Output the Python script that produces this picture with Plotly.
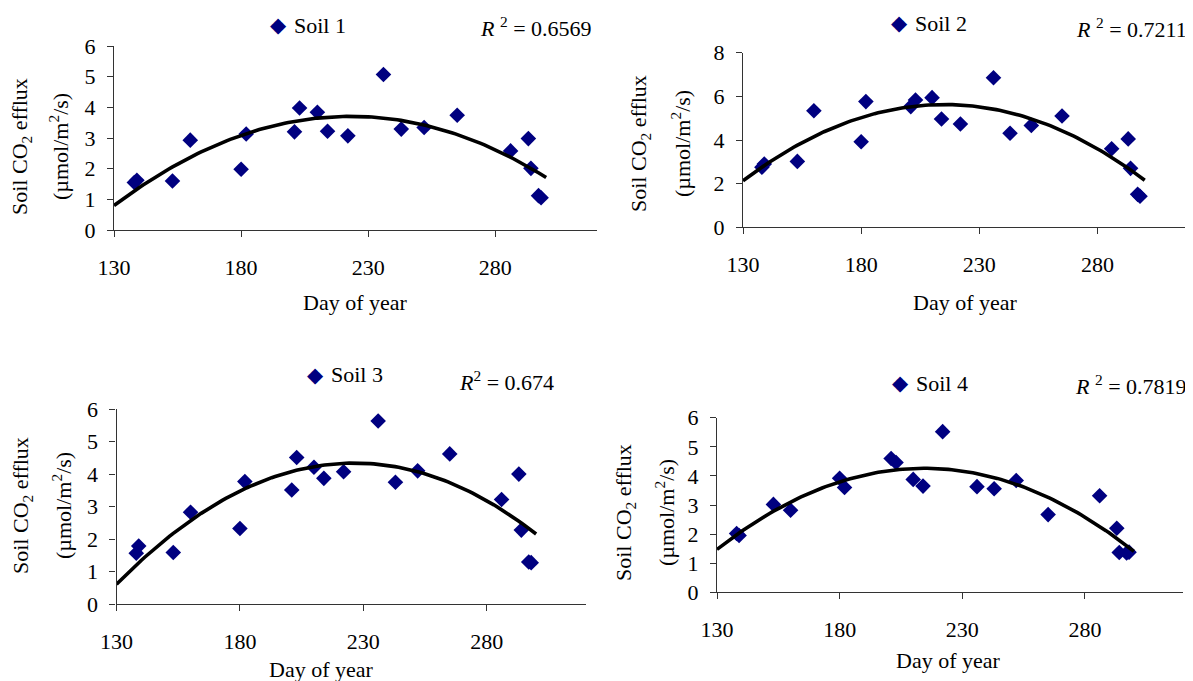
import numpy as np
import plotly.graph_objects as go

# ---------------- data ----------------
days = [138, 139, 153, 160, 180, 182, 201, 203, 210, 214,
        222, 236, 243, 252, 265, 286, 293, 294, 297, 298]

soil1 = [1.55, 1.62, 1.60, 2.93, 1.98, 3.13, 3.20, 3.98, 3.84, 3.22,
         3.07, 5.07, 3.29, 3.34, 3.74, 2.58, 2.98, 2.01, 1.12, 1.05]
soil2 = [2.75, 2.90, 3.02, 5.34, 3.92, 5.76, 5.53, 5.83, 5.94, 4.96,
         4.73, 6.85, 4.31, 4.67, 5.10, 3.60, 4.05, 2.70, 1.51, 1.42]
soil3 = [1.57, 1.79, 1.59, 2.83, 2.33, 3.77, 3.51, 4.51, 4.21, 3.87,
         4.07, 5.63, 3.75, 4.10, 4.62, 3.22, 4.00, 2.28, 1.30, 1.28]
soil4 = [2.02, 1.95, 3.02, 2.82, 3.92, 3.60, 4.60, 4.46, 3.88, 3.65,
         5.52, 3.63, 3.56, 3.84, 2.67, 3.32, 2.20, 1.37, 1.35, 1.38]

names = ["Soil 1", "Soil 2", "Soil 3", "Soil 4"]
r2_labels = ["<i>R</i> <sup>2</sup> = 0.6569", "<i>R</i> <sup>2</sup> = 0.7211",
             "<i>R</i><sup>2</sup> = 0.674", "<i>R</i> <sup>2</sup> = 0.7819"]
x_ticks = [130, 180, 230, 280]
x_range = [130, 320]
y_max = [6, 8, 6, 6]
trend_start, trend_end = 130, 300

series = [soil1, soil2, soil3, soil4]

# ---------------- layout geometry (pixels of the 1193x681 window) ----------------
OFF = 8                      # default page body margin
W, H = 1193 - OFF, 681 - OFF # figure size so that it fills the window
def px(x): return (x - OFF) / W
def py(y): return 1 - (y - OFF) / H

# r2 = (right edge x, centre y)
panels = [
    dict(x0=114, x1=597, yb=230, yt=46, leg=(278, 25), r2=(594, 27), xt=(355, 302), yt1=21, yt2=59, ytc=147),
    dict(x0=743, x1=1192, yb=227.3, yt=52.7, leg=(899, 23), r2=(1189, 28), xt=(965, 302), yt1=640, yt2=681, ytc=144),
    dict(x0=116.5, x1=585.5, yb=604.3, yt=409, leg=(315, 375), r2=(556, 381), xt=(321, 669), yt1=22, yt2=62, ytc=506),
    dict(x0=717, x1=1183, yb=592.3, yt=417.7, leg=(900, 383), r2=(1189, 385), xt=(948, 660), yt1=625, yt2=665, ytc=513),
]

FONT = "Liberation Serif, Times New Roman, serif"
NAVY = "#000080"

fig = go.Figure()
annotations = []
layout = dict(
    width=W, height=H,
    margin=dict(l=0, r=0, t=0, b=0, autoexpand=False),
    paper_bgcolor="white", plot_bgcolor="white",
    font=dict(family=FONT, size=22, color="black"),
    showlegend=False,
)

def txt(x, y, text, xanchor="left", angle=0, font=None):
    annotations.append(dict(x=px(x), y=py(y), xref="paper", yref="paper", text=text,
                            showarrow=False, xanchor=xanchor, yanchor="middle", align="left",
                            textangle=angle,
                            font=font or dict(family=FONT, size=22, color="black")))

for i, (vals, p) in enumerate(zip(series, panels)):
    n = "" if i == 0 else str(i + 1)
    xa, ya = "x" + n, "y" + n
    fig.add_trace(go.Scatter(
        x=days, y=vals, mode="markers", name=names[i],
        marker=dict(symbol="diamond", size=12, color=NAVY, line=dict(width=0)),
        xaxis=xa, yaxis=ya, cliponaxis=False,
    ))
    coef = np.polyfit(days, vals, 2)
    tx = np.linspace(trend_start, trend_end, 120)
    fig.add_trace(go.Scatter(
        x=tx, y=np.polyval(coef, tx), mode="lines",
        line=dict(color="black", width=3.6),
        xaxis=xa, yaxis=ya, cliponaxis=False, hoverinfo="skip",
    ))
    axcommon = dict(showgrid=False, zeroline=False, showline=True, automargin=False,
                    linecolor="#333333", linewidth=1.2, ticks="outside",
                    ticklen=6, tickwidth=1.2, tickcolor="#333333",
                    tickfont=dict(family=FONT, size=22, color="black"))
    layout["xaxis" + n] = dict(axcommon, domain=[px(p["x0"]), px(p["x1"])],
                               range=x_range, tickvals=x_ticks,
                               anchor=ya, ticklabelstandoff=11)
    layout["yaxis" + n] = dict(axcommon, domain=[py(p["yb"]), py(p["yt"])],
                               range=[0, y_max[i]], dtick=1 if y_max[i] == 6 else 2,
                               anchor=xa, ticklabelstandoff=7)
    # legend key + label
    txt(p["leg"][0], p["leg"][1], "◆", xanchor="center",
        font=dict(family="DejaVu Sans", size=21, color=NAVY))
    txt(p["leg"][0] + 14, p["leg"][1], names[i])
    txt(p["r2"][0], p["r2"][1], r2_labels[i], xanchor="right")
    txt(p["xt"][0], p["xt"][1], "Day of year", xanchor="center")
    txt(p["yt1"], p["ytc"], "Soil CO<sub>2</sub> efflux", xanchor="center", angle=-90)
    txt(p["yt2"], p["ytc"], "(µmol/m<sup>2</sup>/s)", xanchor="center", angle=-90)

layout["annotations"] = annotations
fig.update_layout(**layout)
fig.write_html("out.html")
